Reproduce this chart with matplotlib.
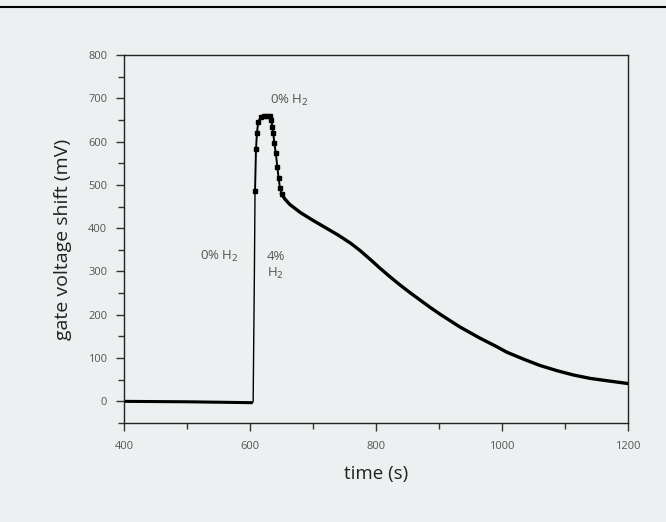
import matplotlib
matplotlib.use("Agg")
import matplotlib.pyplot as plt
from matplotlib.ticker import MultipleLocator
from matplotlib.lines import Line2D

# baseline (0% H2)
base_t = [400, 500, 600, 604]
base_v = [0, -1, -3, -3]
# rise + peak (sampled points, dots)
peak_t = [608, 609.5, 611, 613, 617, 622, 627, 631.7, 634, 635.4, 637, 638.6, 641, 643.3, 645.5, 647.6, 650.3]
peak_v = [487, 582, 619, 645, 657, 659, 659, 659, 650, 634, 619, 596, 573, 542, 515, 492, 479]
# decay
decay_t = [650.3, 655, 663, 680, 700, 720, 740, 760, 775, 790, 806, 822, 838, 854, 870, 886, 902,
           918, 933, 949, 965, 992, 1007, 1035, 1060, 1087, 1113, 1140, 1170, 1198]
decay_v = [479, 468, 455, 436, 418, 401, 384, 365, 348, 329, 308, 288, 269, 251, 234, 217, 201,
           186, 172, 159, 146, 126, 114, 97, 83, 71, 61, 53, 47, 41.5]

bg = "#edf0f0"
FONT = "Open Sans"
fig = plt.figure(figsize=(6.66, 5.22), dpi=100, facecolor=bg)
fig.add_artist(Line2D([0, 1], [1 - 7/522, 1 - 7/522], color="black", lw=1.5, transform=fig.transFigure))
ax = fig.add_axes([124/666, 1 - 423/522, (628 - 124)/666, (423 - 55)/522])
ax.set_facecolor(bg)

ax.plot(base_t, base_v, color="black", lw=2.2, solid_capstyle="butt")
ax.plot([604, 605, 607, 608], [-3, 0, 300, 487], color="black", lw=1.0)
ax.plot(peak_t, peak_v, color="black", lw=1.4, marker="s", ms=2.2, ls="-")
ax.plot(decay_t, decay_v, color="black", lw=2.4, solid_joinstyle="round")

ax.set_xlim(400, 1200)
ax.set_ylim(-50, 800)
ax.xaxis.set_major_locator(MultipleLocator(200))
ax.xaxis.set_minor_locator(MultipleLocator(100))
ax.yaxis.set_major_locator(MultipleLocator(100))
ax.yaxis.set_minor_locator(MultipleLocator(50))
ax.tick_params(which="both", direction="out", colors="#333333", labelcolor="#555555", labelsize=8, width=1)
ax.tick_params(which="major", length=6)
ax.tick_params(which="minor", length=4)
ax.tick_params(axis="x", pad=7)
ax.tick_params(axis="y", pad=6)
for s in ax.spines.values():
    s.set_color("#222222")
    s.set_linewidth(1)

ax.set_xlabel("time (s)", fontsize=13.5, color="#222222", family=FONT, labelpad=9)
ax.set_ylabel("gate voltage shift (mV)", fontsize=14, color="#222222", family=FONT, labelpad=12)
for lab in ax.get_xticklabels() + ax.get_yticklabels():
    lab.set_family(FONT)

tc = "#555555"
ax.text(551, 335, "0% H$_2$", fontsize=9.5, color=tc, family=FONT, ha="center", va="center")
ax.text(627, 335, "4%", fontsize=9.5, color=tc, family=FONT, ha="left", va="center")
ax.text(627, 296, "H$_2$", fontsize=9.5, color=tc, family=FONT, ha="left", va="center")
ax.text(631, 694, "0% H$_2$", fontsize=9.5, color=tc, family=FONT, ha="left", va="center")

fig.savefig("out.png", dpi=100, facecolor=bg)
